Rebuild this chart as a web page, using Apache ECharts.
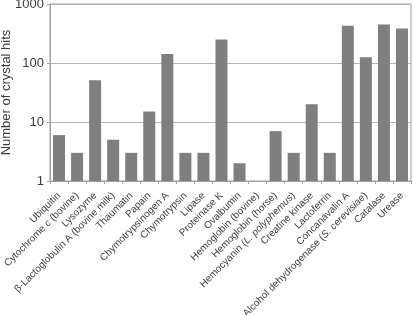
<!DOCTYPE html>
<html>
<head>
<meta charset="utf-8">
<script src="https://cdn.jsdelivr.net/npm/echarts@6/dist/echarts.min.js"></script>
<style>
html, body { margin: 0; padding: 0; background: #fff; }
#chart { width: 413px; height: 315px; }
</style>
</head>
<body>
<div id="chart"></div>
<script>
// category labels ({i|...} = italic part)
var proteins = [
	'Ubiquitin',
	'Cytochrome {i|c} (bovine)',
	'Lysozyme',
	'β-Lactoglobulin A (bovine milk)',
	'Thaumatin',
	'Papain',
	'Chymotrypsinogen A',
	'Chymotrypsin',
	'Lipase',
	'Proteinase K',
	'Ovalbumin',
	'Hemoglobin (bovine)',
	'Hemoglobin (horse)',
	'Hemocyanin ({i|L. polyphemus})',
	'Creatine kinase',
	'Lactoferrin',
	'Concanavalin A',
	'Alcohol dehydrogenase ({i|S. cerevisiae})',
	'Catalase',
	'Urease'
];
var crystalHits = [6, 3, 51, 5, 3, 15, 142, 3, 3, 250, 2, 1, 7, 3, 20, 3, 430, 125, 450, 385];
var yTicks = [1, 10, 100, 1000];

var myChart = echarts.init(document.getElementById('chart'));
var textColor = '#3c3c3c';
var option = {
	animation : false,
	textStyle : { fontFamily : 'Liberation Sans, Arial, sans-serif' },
	grid : {
		left : 50,
		right : 2,
		top : 4,
		bottom : 134,
		containLabel : false,
		outerBoundsMode : 'none',
		show : true,
		borderColor : '#a0a0a0',
		borderWidth : 1
	},
	xAxis : {
		type : 'category',
		data : proteins,
		axisLine : { lineStyle : { color : '#a0a0a0' } },
		axisTick : { show : true, length : 3, lineStyle : { color : '#a0a0a0' } },
		axisLabel : {
			rotate : 45,
			interval : 0,
			margin : 13,
			fontSize : 10,
			color : textColor,
			rich : {
				i : { fontStyle : 'italic', fontSize : 10, color : textColor }
			}
		}
	},
	yAxis : {
		type : 'log',
		logBase : 10,
		min : yTicks[0],
		max : yTicks[yTicks.length - 1],
		name : 'Number of crystal hits',
		nameLocation : 'middle',
		nameGap : 37,
		nameMoveOverlap : false,
		nameTextStyle : { fontSize : 13, color : textColor },
		axisLine : { show : true, lineStyle : { color : '#a0a0a0' } },
		axisTick : { show : true, length : 3, lineStyle : { color : '#a0a0a0' } },
		axisLabel : {
			fontSize : 13,
			color : textColor,
			margin : 6,
			formatter : function(v) { return String(Math.round(v)); }
		},
		splitLine : { lineStyle : { color : '#b4b4b4' } }
	},
	series : [ {
		type : 'bar',
		data : crystalHits,
		barWidth : 12,
		itemStyle : { color : '#7f7f7f' }
	} ]
};
myChart.setOption(option);
</script>
</body>
</html>
